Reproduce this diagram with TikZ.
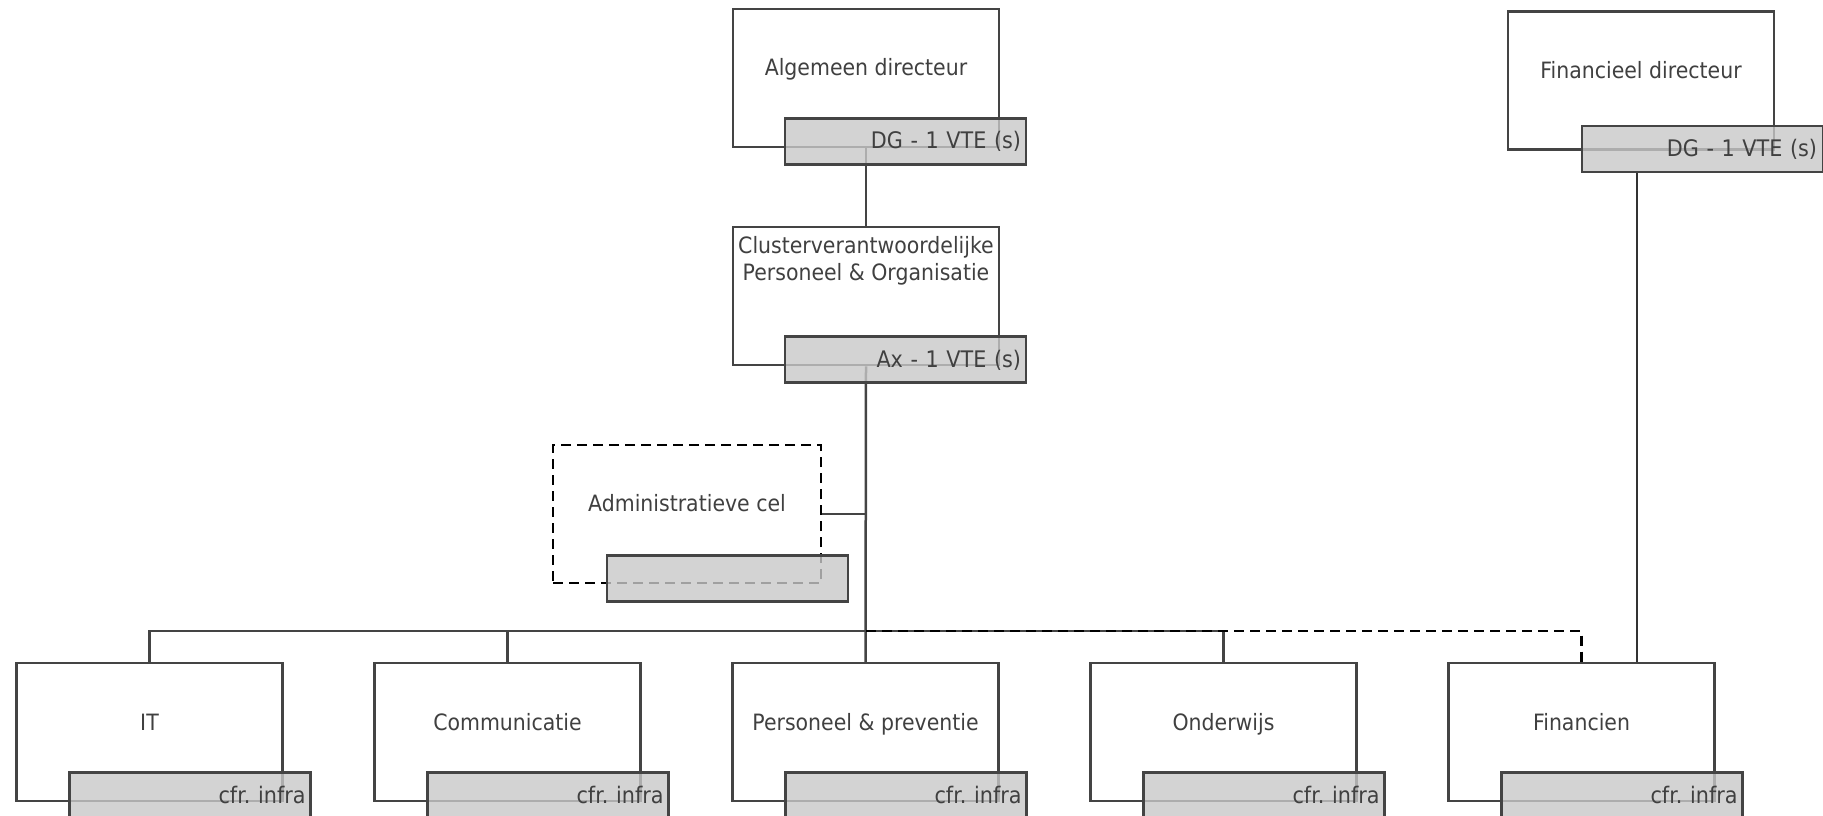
\documentclass[tikz,border=0pt]{standalone}
\usepackage{fontspec}
\setmainfont{DejaVu Sans}[FakeStretch=0.91]
\usetikzlibrary{calc}
\definecolor{ink}{HTML}{444444}
\definecolor{txt}{HTML}{404040}
\definecolor{tagfill}{HTML}{C8C8C8}
\pgfdeclarelayer{back}
\pgfsetlayers{back,main}
\frenchspacing
\begin{document}
\begin{tikzpicture}[x=1pt,y=-1pt,
  unitbox/.style={draw=ink,line width=2.5pt,fill=white,rectangle,inner sep=0pt,
    minimum width=266pt,minimum height=138pt},
  cellbox/.style={draw=black,line width=2.5pt,dash pattern=on 10pt off 6pt,fill=white,
    rectangle,inner sep=0pt,minimum width=268pt,minimum height=138pt},
  tagbox/.style={draw=ink,line width=2.5pt,fill=tagfill,fill opacity=0.8,rectangle,
    inner sep=0pt,minimum width=241pt,minimum height=46pt,anchor=north west},
  lowtag/.style={tagbox,minimum height=52pt},
  label/.style={text=txt,font=\fontsize{22.5}{26.5}\selectfont,inner sep=0pt,anchor=base,align=center},
  tag/.style={text=txt,font=\fontsize{22.8}{26.5}\selectfont,
    execute at begin node={\frenchspacing\spaceskip=7.6pt\relax\xspaceskip=7.6pt\relax},
    inner sep=0pt,anchor=base east},
  link/.style={draw=ink,line width=2.5pt},
  thinlink/.style={draw=black!80,line width=1.5pt},
  dotted link/.style={draw=black,line width=2.5pt,dash pattern=on 10pt off 6pt}
]
\useasboundingbox (0,0) rectangle (1823,815);

% unit frames
\node[unitbox] (alg)  at (866,78) {};
\node[unitbox] (clu)  at (866,296) {};
\node[unitbox] (fdir) at (1641,80.5) {};
\node[cellbox] (adm)  at (687,514) {};
\node[unitbox] (it)   at (149.5,732) {};
\node[unitbox] (com)  at (507.5,732) {};
\node[unitbox] (per)  at (865.5,732) {};
\node[unitbox] (ond)  at (1223.5,732) {};
\node[unitbox] (fin)  at (1581.5,732) {};

% connectors, kept underneath the frames
\begin{pgfonlayer}{back}
  \draw[link] (alg.south) -- (clu.north);
  \draw[link] (clu.south) -- (per.north);
  \draw[link] (adm.east) -- (adm.east -| clu.south);
  \coordinate (bus) at (clu.south |- 0,631);
  \draw[link] (it.north) |- (bus) -| (ond.north);
  \draw[link] (com.north) -- (com.north |- bus);
\end{pgfonlayer}
\draw[dotted link] (bus) -| (fin.north);

% grey tags on the lower right corner of each frame
\node[tagbox] (alg-g)  at ($(alg.south west)+(52,-31)$) {};
\node[tagbox] (clu-g)  at ($(clu.south west)+(52,-31)$) {};
\node[tagbox] (fdir-g) at ($(fdir.south west)+(74,-26)$) {};
\node[tagbox] (adm-g)  at ($(adm.south west)+(54,-30)$) {};
\node[lowtag] (it-g)   at ($(it.south west)+(53,-31)$) {};
\node[lowtag] (com-g)  at ($(com.south west)+(53,-31)$) {};
\node[lowtag] (per-g)  at ($(per.south west)+(53,-31)$) {};
\node[lowtag] (ond-g)  at ($(ond.south west)+(53,-31)$) {};
\node[lowtag] (fin-g)  at ($(fin.south west)+(53,-31)$) {};

\draw[thinlink] ($(fdir-g.south west)+(56,0)$) coordinate (fd) -- (fd |- fin.north);

% frame titles
\node[label] (alg-t)  at ($(alg.north)+(0,68)$) {Algemeen directeur};
\node[label] (clu-t)  at ($(clu.north)+(0,54.5)$) {Clusterverantwoordelijke\\Personeel \& Organisatie};
\node[label] (fdir-t) at ($(fdir.north)+(0,68)$) {Financieel directeur};
\node[label] (adm-t)  at ($(adm.north)+(0,68)$) {Administratieve cel};
\node[label] (it-t)   at ($(it.north)+(0,69)$) {IT};
\node[label] (com-t)  at ($(com.north)+(0,69)$) {Communicatie};
\node[label] (per-t)  at ($(per.north)+(0,69)$) {Personeel \& preventie};
\node[label] (ond-t)  at ($(ond.north)+(0,69)$) {Onderwijs};
\node[label] (fin-t)  at ($(fin.north)+(0,69)$) {Financien};

% tag texts
\node[tag] (alg-k)  at ($(alg-g.north east)+(-6,31)$) {DG - 1 VTE (s)};
\node[tag] (clu-k)  at ($(clu-g.north east)+(-6,32)$) {Ax - 1 VTE (s)};
\node[tag] (fdir-k) at ($(fdir-g.north east)+(-7,32)$) {DG - 1 VTE (s)};
\node[tag] (it-k)   at ($(it-g.north east)+(-6,32)$) {cfr. infra};
\node[tag] (com-k)  at ($(com-g.north east)+(-6,32)$) {cfr. infra};
\node[tag] (per-k)  at ($(per-g.north east)+(-6,32)$) {cfr. infra};
\node[tag] (ond-k)  at ($(ond-g.north east)+(-6,32)$) {cfr. infra};
\node[tag] (fin-k)  at ($(fin-g.north east)+(-6,32)$) {cfr. infra};
\end{tikzpicture}
\end{document}
